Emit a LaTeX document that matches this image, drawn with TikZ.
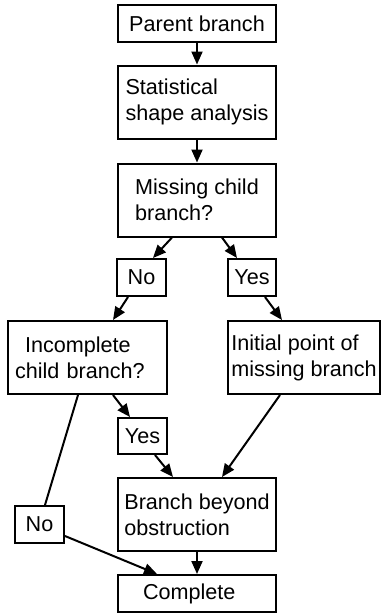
\documentclass[tikz,border=0pt]{standalone}
\usepackage{fontspec}
\setmainfont{Liberation Sans}
\usetikzlibrary{arrows.meta}

\begin{document}
\begin{tikzpicture}[x=1pt,y=-1pt,
  box/.style={draw, line width=2pt, align=left, inner xsep=2pt, inner ysep=0pt,
    minimum width=158pt, minimum height=37pt, font=\fontsize{21.6pt}{26pt}\selectfont},
  tall/.style={minimum height=73pt},
  ans/.style={box, minimum width=49pt},
  flow/.style={line width=2pt, -{Triangle[length=13pt,width=11pt]}}]
 \useasboundingbox (0,0) rectangle (382,613);
 \node[box] (parent) at (197,23.5) {Parent branch};
 \node[box, tall] (stat) at (197,102) {Statistical\\shape analysis};
 \node[box, tall] (missing) at (197,200) {Missing child\\branch?};
 \node[ans] (no1) at (141.5,277.5) {No};
 \node[ans, minimum width=48pt] (yes1) at (252,277.5) {Yes};
 \node[box, tall, minimum width=159pt, text width=145pt, inner xsep=7pt] (incomplete) at (87.5,357.5)
  {\hspace*{10pt}Incomplete\\child branch?};
 \node[box, tall, minimum width=152pt] (initial) at (304,357.5) {Initial point of\\missing branch};
 \node[ans, minimum height=36pt] (yes2) at (142.5,436) {Yes};
 \node[box, tall] (branch) at (197,514.5) {Branch beyond\\obstruction};
 \node[ans] (no2) at (39.5,524.5) {No};
 \node[box, text width=108pt, inner xsep=25pt] (complete) at (197,593.5) {Complete};

 \draw[flow] (parent) -- (stat);
 \draw[flow] (stat) -- (missing);
 \draw[flow] ([xshift=-25pt]missing.south) -- ([xshift=11.5pt]no1.north);
 \draw[flow] ([xshift=25pt]missing.south) -- ([xshift=-15pt]yes1.north);
 \draw[flow] ([xshift=-13.5pt]no1.south) -- ([xshift=25.5pt]incomplete.north);
 \draw[flow] ([xshift=13pt]yes1.south) -- ([xshift=-22pt]initial.north);
 \draw[flow] ([xshift=25.5pt]incomplete.south) -- ([xshift=-12.5pt]yes2.north);
 \draw[line width=2pt] ([xshift=-9.5pt]incomplete.south) -- ([xshift=5.5pt]no2.north);
 \draw[flow] ([xshift=-24pt]initial.south) -- ([xshift=25pt]branch.north);
 \draw[flow] ([xshift=12.5pt]yes2.south) -- ([xshift=-24pt]branch.north);
 \draw[flow] (branch) -- (complete);
 \draw[flow] ([yshift=-11.5pt]no2.east) -- ([xshift=-40pt]complete.north);
\end{tikzpicture}
\end{document}
